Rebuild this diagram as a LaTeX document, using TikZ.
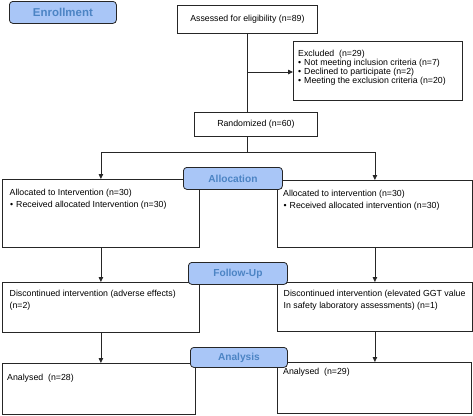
\documentclass[tikz,border=0pt]{standalone}
\usepackage{fontspec}
\setmainfont{Liberation Sans}
\usetikzlibrary{arrows.meta}
\definecolor{lblfill}{HTML}{A9C6F7}
\definecolor{lbltext}{HTML}{4C84C4}
\definecolor{edge}{HTML}{262626}
\tikzset{
  box/.style={draw=edge, line width=0.8bp, anchor=north west, inner sep=0pt, fill=white},
  txt/.style={anchor=base west, inner sep=0pt, font=\fontsize{8.8}{10}\selectfont},
  ctxt/.style={inner sep=0pt, font=\fontsize{8.8}{10}\selectfont},
  phase/.style={draw=edge, fill=lblfill, rounded corners=3.5bp, line width=0.8bp, text=lbltext,
    font=\fontsize{10.2}{12}\selectfont\bfseries, anchor=north west, inner sep=0pt},
  arr/.style={draw=edge, line width=0.8bp, -{Triangle[length=5bp,width=4.5bp]}},
  conn/.style={draw=edge, line width=0.8bp}
}
\begin{document}
\begin{tikzpicture}[x=1bp,y=-1bp]
\useasboundingbox (0,0) rectangle (473,415);

% boxes
\node[box, minimum width=140bp, minimum height=28bp] (assess) at (177,5) {};
\node[ctxt] (assesst) at (assess.center) {Assessed for eligibility (n=89)};
\node[box, minimum width=169bp, minimum height=59bp] (excl) at (293,41) {};
\node[box, minimum width=123bp, minimum height=24bp] (rand) at (194,112) {};
\node[ctxt] (randt) at (rand.center) {Randomized (n=60)};

\node[box, minimum width=197bp, minimum height=68bp] (alL) at (2,179) {};
\node[box, minimum width=195bp, minimum height=67bp] (alR) at (277,180) {};
\node[box, minimum width=197bp, minimum height=50bp] (diL) at (2,282) {};
\node[box, minimum width=195bp, minimum height=49bp] (diR) at (277,282) {};
\node[box, minimum width=193bp, minimum height=51bp] (anL) at (2,363) {};
\node[box, minimum width=194bp, minimum height=51bp] (anR) at (277,362) {};

% texts
\node[txt] (ex0) at (298,56) {Excluded\ \ (n=29)};
\node[txt] (exb1) at (298,65) {•};
\node[txt] (ex1) at (304,65) {Not meeting inclusion criteria (n=7)};
\node[txt] (exb2) at (298,74) {•};
\node[txt] (ex2) at (304,74) {Declined to participate (n=2)};
\node[txt] (exb3) at (298,83) {•};
\node[txt] (ex3) at (304,83) {Meeting the exclusion criteria (n=20)};

\node[txt] (alL1) at (9.5,195) {Allocated to Intervention (n=30)};
\node[txt] (alLb) at (10,207) {•};
\node[txt] (alL2) at (16,207) {Received allocated Intervention (n=30)};
\node[txt] (alR1) at (283,196) {Allocated to intervention (n=30)};
\node[txt] (alRb) at (283.5,208) {•};
\node[txt] (alR2) at (289.5,208) {Received allocated intervention (n=30)};

\node[txt] (diL1) at (9.5,296) {Discontinued intervention (adverse effects)};
\node[txt] (diL2) at (9.5,308) {(n=2)};
\node[txt] (diR1) at (283.5,296) {Discontinued intervention (elevated GGT value};
\node[txt] (diR2) at (283.5,308) {In safety laboratory assessments) (n=1)};

\node[txt] (anL1) at (7,380) {Analysed\ \ (n=28)};
\node[txt] (anR1) at (283,374) {Analysed\ \ (n=29)};

% connectors
\coordinate (sp) at (assess.south |- 0,152);
\coordinate (sl) at (alL.north |- sp);
\coordinate (sr) at (alR.north |- sp);
\draw[conn] (assess.south) -- (assess.south |- rand.north);
\draw[arr] (assess.south |- 0,72) -- (excl.west |- 0,72);
\draw[conn] (assess.south |- rand.south) -- (sp);
\draw[arr] (sp) -- (sl) -- (alL.north);
\draw[arr] (sp) -- (sr) -- (alR.north);
\draw[arr] (alL.south) -- (diL.north);
\draw[arr] (alR.south) -- (diR.north);
\draw[arr] (diL.south) -- (diL.south |- anL.north);
\draw[arr] (diR.south) -- (diR.south |- anR.north);

% phase labels
\node[phase, minimum width=107bp, minimum height=22bp, font=\fontsize{11.5}{13}\selectfont\bfseries] (enr) at (9,1) {Enrollment};
\node[phase, minimum width=99bp, minimum height=22bp] (alloc) at (183,167) {Allocation};
\node[phase, minimum width=99bp, minimum height=22bp] (fol) at (188,262) {Follow-Up};
\node[phase, minimum width=97bp, minimum height=20bp] (ana) at (190,347) {Analysis};
\end{tikzpicture}
\end{document}
